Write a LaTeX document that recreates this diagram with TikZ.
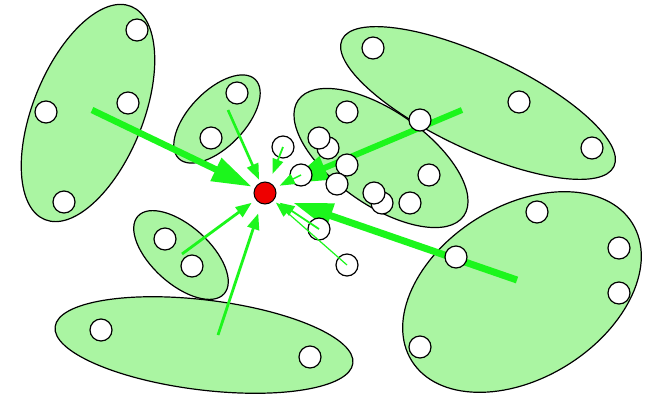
\documentclass[tikz,border=0pt]{standalone}
\usetikzlibrary{arrows.meta}
\definecolor{fillg}{RGB}{170,245,162}
\definecolor{arrg}{RGB}{28,246,28}
\definecolor{redd}{RGB}{238,0,0}
\tikzset{
  clusterfill/.style={fill=fillg},
  clusterline/.style={draw=black, line width=1.2pt},
  wc/.style={circle, draw=black, fill=white, line width=1.2pt, minimum size=22pt, inner sep=0pt},
  target/.style={circle, draw=black, fill=redd, line width=1pt, minimum size=22pt, inner sep=0pt},
  bigarr/.style={draw=arrg, line width=6.5pt, -{Triangle[length=40pt,width=24pt]}},
  medarr/.style={draw=arrg, line width=2.6pt, -{Triangle[length=16pt,width=12pt]}},
  thinarr/.style={draw=arrg, line width=1.6pt, -{Triangle[length=15pt,width=11pt]}},
}
\begin{document}
\begin{tikzpicture}[x=1pt,y=-1pt]
\useasboundingbox (0,0) rectangle (659,397);
% cluster fills, then outlines
\foreach \cx/\cy/\a/\b/\r in {88/113/115/55/68, 217/119/55/28/46, 181/255/58/29/-42, 204/345/150/45/-7, 478/103/150/47/-25, 381/158/101/47/-35, 522/292/130/86/32}{
  \path[clusterfill, rotate around={\r:(\cx,\cy)}] (\cx,\cy) ellipse [x radius=\a, y radius=\b];
}
\foreach \cx/\cy/\a/\b/\r in {88/113/115/55/68, 217/119/55/28/46, 181/255/58/29/-42, 204/345/150/45/-7, 478/103/150/47/-25, 381/158/101/47/-35, 522/292/130/86/32}{
  \path[clusterline, rotate around={\r:(\cx,\cy)}] (\cx,\cy) ellipse [x radius=\a, y radius=\b];
}
% target
\node[target] (red) at (265,193) {};
% arrow start points inside clusters
\coordinate (sA) at (92,110);
\coordinate (sE) at (462,110);
\coordinate (sG) at (517,280);
\coordinate (sB) at (228,110);
\coordinate (sC) at (182,254);
\coordinate (sD) at (218,335);
\draw[bigarr, shorten >=3pt] (sA) -- (red);
\draw[bigarr, line width=6pt, shorten >=13pt] (sE) -- (red);
\draw[bigarr, line width=7pt, shorten >=18pt] (sG) -- (red);
\draw[medarr, shorten >=3pt] (sB) -- (red);
\draw[medarr, line width=2.8pt, shorten >=5pt] (sC) -- (red);
\draw[medarr, line width=2.8pt, shorten >=10pt] (sD) -- (red);
% white circles
\node[wc] (a1) at (137,30) {};
\node[wc] (a2) at (128,103) {};
\node[wc] (a3) at (46,112) {};
\node[wc] (a4) at (64,202) {};
\node[wc] (b1) at (237,93) {};
\node[wc] (b2) at (211,138) {};
\node[wc] (c1) at (165,239) {};
\node[wc] (c2) at (192,266) {};
\node[wc] (d1) at (101,330) {};
\node[wc] (d2) at (310,357) {};
\node[wc] (e1) at (373,48) {};
\node[wc] (e2) at (519,102) {};
\node[wc] (e3) at (592,148) {};
\node[wc] (e4) at (420,120) {};
\node[wc] (f1) at (347,112) {};
\node[wc] (f2) at (328,148) {};
\node[wc] (f3) at (319,138) {};
\node[wc] (f4) at (347,165) {};
\node[wc] (f5) at (337,184) {};
\node[wc] (f6) at (382,203) {};
\node[wc] (f7) at (374,193) {};
\node[wc] (f8) at (410,203) {};
\node[wc] (f9) at (429,175) {};
\node[wc] (g1) at (537,212) {};
\node[wc] (g2) at (619,248) {};
\node[wc] (g3) at (619,293) {};
\node[wc] (g4) at (420,347) {};
\node[wc] (g5) at (456,257) {};
\node[wc] (q1) at (283,147) {};
\node[wc] (q2) at (301,175) {};
\node[wc] (q3) at (319,229) {};
\node[wc] (q4) at (347,265) {};
% thin arrows from single circles
\draw[thinarr, line width=1.8pt, shorten >=9pt] (q1.center) -- (red);
\draw[thinarr, line width=1.4pt, shorten >=5pt] (q2.center) -- (red);
\draw[thinarr, line width=1.8pt, shorten >=6pt] (q3.center) -- (red);
\draw[thinarr, line width=1.2pt, shorten >=3pt] (q4.center) -- (red);
\end{tikzpicture}
\end{document}
